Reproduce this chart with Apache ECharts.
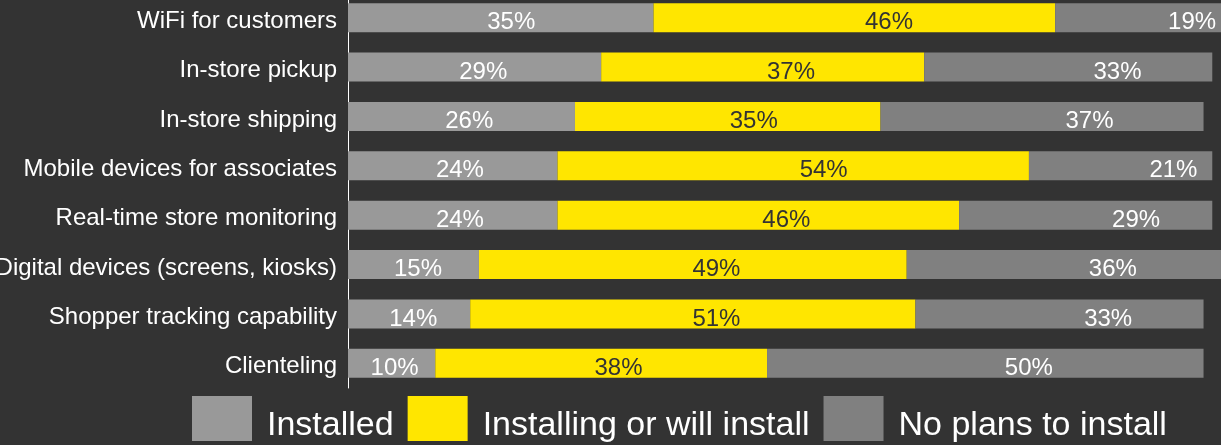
<!DOCTYPE html>
<html>
<head>
<meta charset="utf-8">
<script src="https://cdn.jsdelivr.net/npm/echarts@6/dist/echarts.min.js"></script>
<style>
html,body{margin:0;padding:0;background:#333333;}
#chart{width:1221px;height:445px;}
</style>
</head>
<body>
<div id="chart"></div>
<script>
const categories = [
  'WiFi for customers',
  'In-store pickup',
  'In-store shipping',
  'Mobile devices for associates',
  'Real-time store monitoring',
  'Digital devices (screens, kiosks)',
  'Shopper tracking capability',
  'Clienteling'
];
const seriesNames = ['Installed', 'Installing or will install', 'No plans to install'];
const installed = [35, 29, 26, 24, 24, 15, 14, 10];
const installing = [46, 37, 35, 54, 46, 49, 51, 38];
const noPlans = [19, 33, 37, 21, 29, 36, 33, 50];
const colors = ['#999999', '#FFE600', '#808080'];
const labelColors = ['#ffffff', '#333333', '#ffffff'];
const values = [installed, installing, noPlans];

const FONT = '"Liberation Sans", Arial, sans-serif';

const barSeries = values.map((v, i) => ({
  name: seriesNames[i],
  type: 'bar',
  stack: 'bars',
  xAxisIndex: 0,
  yAxisIndex: 0,
  barWidth: 29,
  data: v,
  itemStyle: { color: colors[i] },
  label: { show: false },
  emphasis: { disabled: true },
  silent: true
}));

const labelSeries = values.map((v, i) => ({
  name: 'lbl' + i,
  type: 'bar',
  stack: 'labels',
  xAxisIndex: 1,
  yAxisIndex: 1,
  barWidth: 29,
  clip: false,
  data: v,
  itemStyle: { color: 'rgba(0,0,0,0)' },
  label: {
    show: true,
    position: 'inside',
    formatter: '{c}%',
    color: labelColors[i],
    fontFamily: FONT,
    fontSize: 24,
    offset: [0, 5]
  },
  emphasis: { disabled: true },
  silent: true,
  z: 5
}));

const chart = echarts.init(document.getElementById('chart'), null, { renderer: 'canvas' });
chart.setOption({
  backgroundColor: '#333333',
  animation: false,
  grid: { left: 348, right: 0, top: -7, bottom: 57, containLabel: false, outerBoundsMode: 'none' },
  xAxis: [
    { type: 'value', min: 0, max: 100, show: false, splitLine: { show: false } },
    { type: 'value', min: 0, max: 93.6, show: false, splitLine: { show: false } }
  ],
  yAxis: [
    {
      type: 'category',
      data: categories,
      inverse: true,
      axisLine: { show: true, lineStyle: { color: '#ffffff', width: 1 } },
      axisTick: { show: false },
      axisLabel: {
        color: '#ffffff', fontFamily: FONT, fontSize: 24, margin: 11,
        formatter: '{a|{value}}',
        rich: { a: { color: '#ffffff', fontFamily: FONT, fontSize: 24, padding: [7, 0, 0, 0] } }
      }
    },
    {
      type: 'category',
      data: categories,
      inverse: true,
      show: false
    }
  ],
  legend: {
    data: seriesNames,
    left: 192,
    top: 396,
    padding: 0,
    itemWidth: 60,
    itemHeight: 45,
    itemGap: 14,
    icon: 'rect',
    selectedMode: false,
    formatter: '{a|{name}}',
    textStyle: {
      color: '#ffffff', fontFamily: FONT, fontSize: 34,
      rich: { a: { color: '#ffffff', fontFamily: FONT, fontSize: 34, padding: [14, 0, 0, 10] } }
    }
  },
  series: barSeries.concat(labelSeries)
});
</script>
</body>
</html>
